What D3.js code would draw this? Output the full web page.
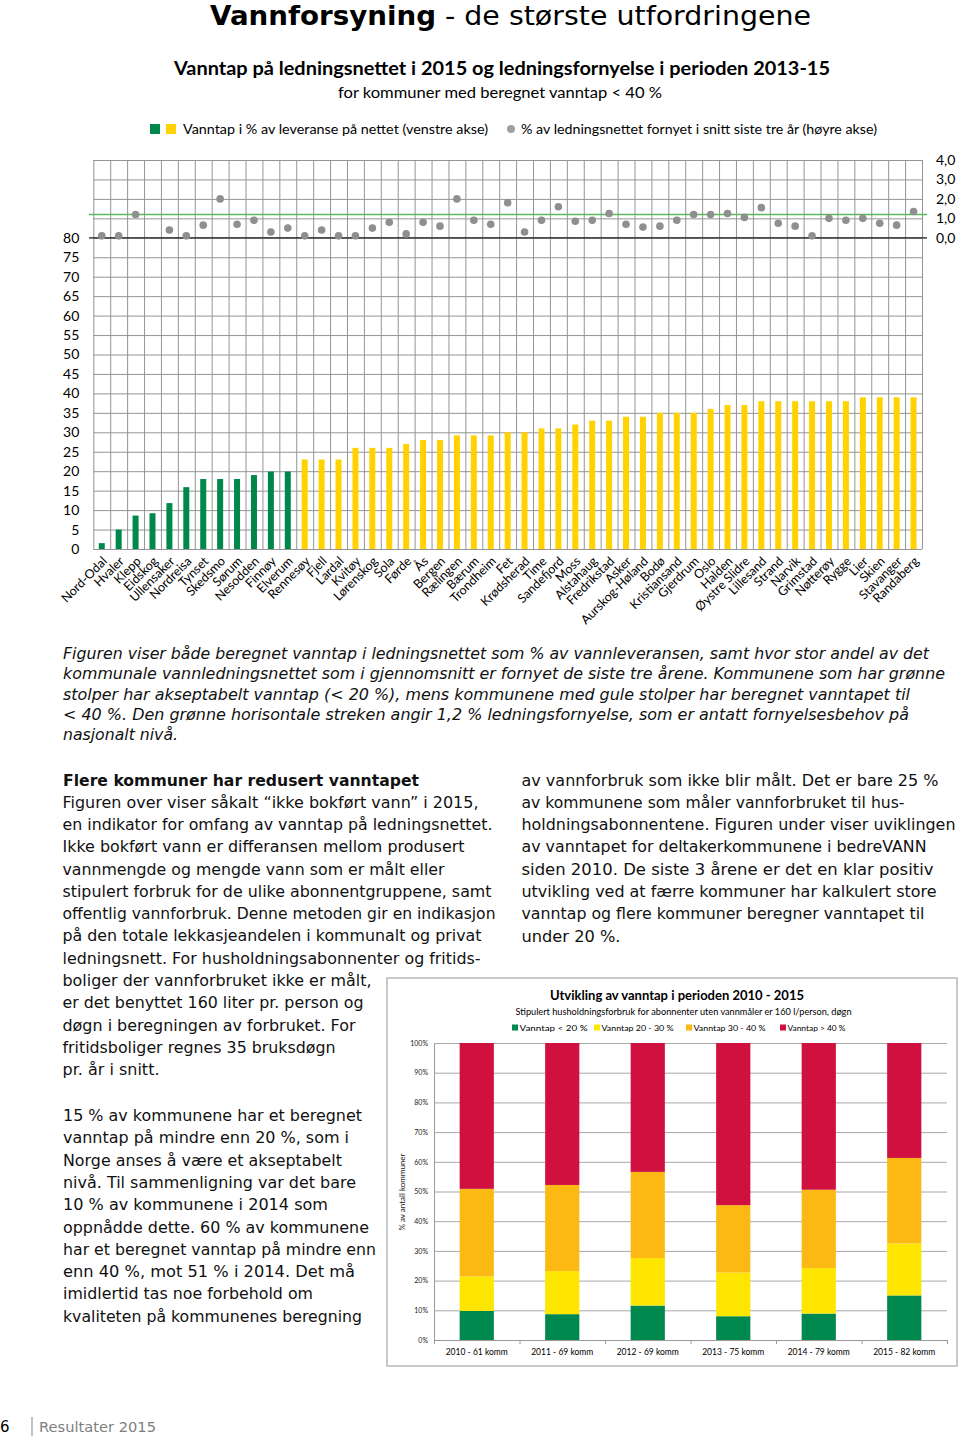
<!DOCTYPE html>
<html><head><meta charset="utf-8">
<script src="https://cdn.jsdelivr.net/npm/d3@7"></script>
<style>
html,body{margin:0;padding:0;background:#fff;}
svg{display:block;}
</style></head><body>
<svg id="c" width="960" height="1438"></svg>
<script>
// ---------------- DATA ----------------
const kommuner = ["Nord-Odal","Hvaler","Klepp","Eidskog","Ullensaker","Nordreisa","Tynset","Skedsmo","Sørum","Nesodden","Finnøy","Elverum","Rennesøy","Fjell","Lardal","Kvitøy","Lørenskog","Sola","Førde","Ås","Bergen","Rælingen","Bærum","Trondheim","Fet","Krødsherad","Time","Sandefjord","Moss","Alstahaug","Fredrikstad","Asker","Aurskog-Høland","Bodø","Kristiansand","Gjerdrum","Oslo","Halden","Øystre Slidre","Lillesand","Strand","Narvik","Grimstad","Nøtterøy","Rygge","Lier","Skien","Stavanger","Randaberg"];
const vanntap = [1.5,5,8.6,9.2,11.8,15.9,18,18,18,19,19.9,19.9,23,23,23,26,26,26,27,28,28,29.2,29.2,29.2,30,30,31,31,32,33,33,34,34,35,35,35,36,37,37,38,38,38,38,38,38,39,39,39,39];
const fornyelse = [0.1,0.1,1.2,null,0.4,0.1,0.65,2.0,0.7,0.9,0.3,0.5,0.1,0.4,0.1,0.1,0.5,0.8,0.2,0.8,0.6,2.0,0.9,0.7,1.8,0.3,0.9,1.6,0.85,0.9,1.25,0.7,0.55,0.6,0.9,1.2,1.2,1.25,1.05,1.55,0.75,0.6,0.1,1.0,0.9,1.0,0.75,0.65,1.35];
const fornyelsesbehov = 1.2;
const leftTicks = [0,5,10,15,20,25,30,35,40,45,50,55,60,65,70,75,80];
const rightTicks = [0,1,2,3,4];

const years = ["2010 - 61 komm","2011 - 69 komm","2012 - 69 komm","2013 - 75 komm","2014 - 79 komm","2015 - 82 komm"];
const pctUnder20 = [9.8,8.7,11.6,8.0,8.9,15.0];
const pct20to30  = [11.6,14.5,16.0,14.7,15.3,17.5];
const pct30to40  = [29.5,29.0,29.0,22.7,26.4,28.8];
const pctOver40  = [49.1,47.8,43.4,54.6,49.4,38.7];
const stackKeys = ["Vanntap < 20 %","Vanntap 20 - 30 %","Vanntap 30 - 40 %","Vanntap > 40 %"];
const stackTicks = [0,10,20,30,40,50,60,70,80,90,100];

const captionLines = [
 "Figuren viser både beregnet vanntap i ledningsnettet som % av vannleveransen, samt hvor stor andel av det",
 "kommunale vannledningsnettet som i gjennomsnitt er fornyet de siste tre årene. Kommunene som har grønne",
 "stolper har akseptabelt vanntap (< 20 %), mens kommunene med gule stolper har beregnet vanntapet til",
 "< 40 %. Den grønne horisontale streken angir 1,2 % ledningsfornyelse, som er antatt fornyelsesbehov på",
 "nasjonalt nivå."];
const leftLines1 = [
 "Figuren over viser såkalt “ikke bokført vann” i 2015,",
 "en indikator for omfang av vanntap på ledningsnettet.",
 "Ikke bokført vann er differansen mellom produsert",
 "vannmengde og mengde vann som er målt eller",
 "stipulert forbruk for de ulike abonnentgruppene, samt",
 "offentlig vannforbruk. Denne metoden gir en indikasjon",
 "på den totale lekkasjeandelen i kommunalt og privat",
 "ledningsnett. For husholdningsabonnenter og fritids-",
 "boliger der vannforbruket ikke er målt,",
 "er det benyttet 160 liter pr. person og",
 "døgn i beregningen av forbruket. For",
 "fritidsboliger regnes 35 bruksdøgn",
 "pr. år i snitt."];
const leftLines2 = [
 "15 % av kommunene har et beregnet",
 "vanntap på mindre enn 20 %, som i",
 "Norge anses å være et akseptabelt",
 "nivå. Til sammenligning var det bare",
 "10 % av kommunene i 2014 som",
 "oppnådde dette. 60 % av kommunene",
 "har et beregnet vanntap på mindre enn",
 "enn 40 %, mot 51 % i 2014. Det må",
 "imidlertid tas noe forbehold om",
 "kvaliteten på kommunenes beregning"];
const rightLines = [
 "av vannforbruk som ikke blir målt. Det er bare 25 %",
 "av kommunene som måler vannforbruket til hus-",
 "holdningsabonnentene. Figuren under viser uviklingen",
 "av vanntapet for deltakerkommunene i bedreVANN",
 "siden 2010. De siste 3 årene er det en klar positiv",
 "utvikling ved at færre kommuner har kalkulert store",
 "vanntap og flere kommuner beregner vanntapet til",
 "under 20 %."];

// ---------------- LAYOUT ----------------
const captionW = [866,882,847,846,115];
const left1W = [416,430,402,382,429,433,419,418,309,301,293,273,97];
const left2W = [299,286,279,293,265,306,313,292,250,299];
const rightW = [417,383,434,405,412,415,403,99];

const svg = d3.select("#c");
svg.append("rect").attr("width",960).attr("height",1438).attr("fill","#fff");

function fitW(el, w){
  if (w == null) return;
  const l = el.getComputedTextLength();
  if (Math.abs(l - w) > 0.5){ el.setAttribute("textLength", w); el.setAttribute("lengthAdjust","spacingAndGlyphs"); }
}
function addText(x, y, txt, opts, w){
  const t = svg.append("text").attr("x",x).attr("y",y).text(txt);
  Object.entries(opts||{}).forEach(([k,v])=>t.attr(k,v));
  fitW(t.node(), w);
  return t;
}
function block(lines, widths, x, y0, dy, opts){
  lines.forEach((s,i)=>addText(x, y0+i*dy, s, opts, widths[i]));
}

// ---------------- TITLES ----------------
const sansV = "DejaVu Sans, Verdana, sans-serif";
const sansC = "Lato, 'Open Sans', sans-serif";
addText(210, 24.5, "Vannforsyning", {"font-family":sansV,"font-weight":"bold","font-size":26,"fill":"#000"}, 226);
addText(445, 24.5, "- de største utfordringene", {"font-family":sansV,"font-size":26,"fill":"#000"}, 366);
addText(174, 75, "Vanntap på ledningsnettet i 2015 og ledningsfornyelse i perioden 2013-15", {"font-family":sansC,"font-weight":"bold","font-size":19,"fill":"#000"}, 656);
addText(338, 98, "for kommuner med beregnet vanntap < 40 %", {"font-family":sansC,"font-size":15.5,"fill":"#000"}, 324);

// legend
const greenBar = "#00874c", yellowBar = "#ffd200", dotCol = "#8f8f8f";
svg.append("rect").attr("x",150).attr("y",124).attr("width",10).attr("height",10).attr("fill",greenBar);
svg.append("rect").attr("x",166).attr("y",124).attr("width",10).attr("height",10).attr("fill",yellowBar);
addText(183, 134, "Vanntap i % av leveranse på nettet (venstre akse)", {"font-family":sansC,"font-size":14,"fill":"#000"}, 305);
svg.append("circle").attr("cx",511).attr("cy",129).attr("r",4).attr("fill","#a0a0a0");
addText(521, 134, "% av ledningsnettet fornyet i snitt siste tre år (høyre akse)", {"font-family":sansC,"font-size":14,"fill":"#000"}, 356);

// ---------------- MAIN CHART ----------------
const pL = 93.3, pR = 922, pT = 160, pB = 549;
const x = d3.scaleBand().domain(kommuner).range([pL, pR]).padding(0);
const xi = d3.scaleLinear().domain([0, kommuner.length]).range([pL, pR]);
const yL = d3.scaleLinear().domain([0,100]).range([pB, pT]);
const yR = d3.scaleLinear().domain([-16,4]).range([pB, pT]);
const gridCol = "#949494";

// horizontal grid
const gh = svg.append("g").attr("transform",`translate(${pL},0)`)
  .call(d3.axisLeft(yL).tickValues(d3.range(0,105,5)).tickSize(-(pR-pL)).tickFormat(""));
gh.select(".domain").remove();
gh.selectAll("line").attr("stroke",gridCol).attr("stroke-width",1);
// vertical grid
const gv = svg.append("g").attr("transform",`translate(0,${pB})`)
  .call(d3.axisBottom(xi).tickValues(d3.range(0,kommuner.length+1)).tickSize(-(pB-pT)).tickFormat(""));
gv.select(".domain").remove();
gv.selectAll("line").attr("stroke",gridCol).attr("stroke-width",1);

// bars
svg.append("g").selectAll("rect").data(kommuner).join("rect")
  .attr("x", d => x(d) + x.bandwidth()/2 - 3)
  .attr("width", 6)
  .attr("y", (d,i) => yL(vanntap[i]))
  .attr("height", (d,i) => yL(0) - yL(vanntap[i]))
  .attr("fill", (d,i) => vanntap[i] < 20 ? greenBar : yellowBar);

// reference lines
svg.append("line").attr("x1",89).attr("x2",927).attr("y1",yR(0)).attr("y2",yR(0)).attr("stroke","#1a1a1a").attr("stroke-width",1.3);
svg.append("line").attr("x1",89).attr("x2",927).attr("y1",yR(fornyelsesbehov)).attr("y2",yR(fornyelsesbehov)).attr("stroke","#5cb85c").attr("stroke-width",1.5);

// dots
svg.append("g").selectAll("circle").data(kommuner.filter((d,i)=>fornyelse[i]!=null)).join("circle")
  .attr("cx", d => x(d) + x.bandwidth()/2)
  .attr("cy", d => yR(fornyelse[kommuner.indexOf(d)]))
  .attr("r", 3.8)
  .attr("fill", dotCol);

// left axis
const ga = svg.append("g").attr("transform",`translate(${pL},0)`)
  .call(d3.axisLeft(yL).tickValues(leftTicks).tickSize(0).tickPadding(14));
ga.select(".domain").remove();
ga.selectAll("text").attr("font-family",sansC).attr("font-size",14).attr("fill","#000");
// right axis
const gr = svg.append("g").attr("transform",`translate(${pR},0)`)
  .call(d3.axisRight(yR).tickValues(rightTicks).tickSize(0).tickPadding(14).tickFormat(d => d3.format(".1f")(d).replace(".",",")));
gr.select(".domain").remove();
gr.selectAll("text").attr("font-family",sansC).attr("font-size",14).attr("fill","#000");
// bottom axis labels
const gb = svg.append("g").attr("transform",`translate(0,${pB})`)
  .call(d3.axisBottom(x).tickSize(0));
gb.select(".domain").remove();
gb.selectAll("text").attr("font-family",sansC).attr("font-size",12.5).attr("fill","#000")
  .attr("text-anchor","end").attr("x",0).attr("y",0).attr("dy",0)
  .attr("transform","translate(6,13) rotate(-45)");

// ---------------- CAPTION ----------------
block(captionLines, captionW, 63, 659, 20.3, {"font-family":sansV,"font-style":"italic","font-size":15,"fill":"#111"});

// ---------------- BODY TEXT ----------------
addText(63, 785.5, "Flere kommuner har redusert vanntapet", {"font-family":sansV,"font-weight":"bold","font-size":15,"fill":"#111"}, 356);
block(leftLines1, left1W, 62.5, 807.8, 22.27, {"font-family":sansV,"font-size":15,"fill":"#111"});
block(leftLines2, left2W, 63, 1121, 22.3, {"font-family":sansV,"font-size":15,"fill":"#111"});
block(rightLines, rightW, 521.5, 785.5, 22.3, {"font-family":sansV,"font-size":15,"fill":"#111"});

// ---------------- STACKED CHART ----------------
svg.append("rect").attr("x",387).attr("y",978).attr("width",570).attr("height",388)
  .attr("fill","#fff").attr("stroke","#c4c4c4").attr("stroke-width",1.8);
addText(550, 999.5, "Utvikling av vanntap i perioden 2010 - 2015", {"font-family":sansC,"font-weight":"bold","font-size":12.5,"fill":"#000"}, 254);
addText(515.5, 1014.5, "Stipulert husholdningsforbruk for abonnenter uten vannmåler er 160 l/person, døgn", {"font-family":sansC,"font-size":8.5,"fill":"#000"}, 336);

const stackCols = ["#00894f","#ffe600","#fcb914","#d0103f"];
const legX = [512, 594, 686, 780];
const legTW = [68, 72, 72, 58];
stackKeys.forEach((k,i)=>{
  svg.append("rect").attr("x",legX[i]).attr("y",1024.5).attr("width",6).attr("height",6).attr("fill",stackCols[i]);
  addText(legX[i]+7.5, 1030.5, k, {"font-family":sansC,"font-size":8,"fill":"#000"}, legTW[i]);
});

const sL = 434, sR = 947, sT = 1043, sB = 1340;
const xs = d3.scaleBand().domain(years).range([sL, sR]).paddingInner(0.6).paddingOuter(0.3);
const xsEdge = d3.scaleLinear().domain([0, years.length]).range([sL, sR]);
const ys = d3.scaleLinear().domain([0,100]).range([sB, sT]);

const gsg = svg.append("g").attr("transform",`translate(${sL},0)`)
  .call(d3.axisLeft(ys).tickValues(stackTicks).tickSize(-(sR-sL)).tickPadding(6).tickFormat(d=>d+"%"));
gsg.select(".domain").attr("stroke","#9a9a9a");
gsg.selectAll("line").attr("stroke","#a8a8a8").attr("stroke-width",1);
gsg.selectAll("text").attr("font-family",sansC).attr("font-size",7).attr("fill","#222");

const table = years.map((y,i)=>({year:y, [stackKeys[0]]:pctUnder20[i], [stackKeys[1]]:pct20to30[i], [stackKeys[2]]:pct30to40[i], [stackKeys[3]]:pctOver40[i]}));
const series = d3.stack().keys(stackKeys)(table);
svg.append("g").selectAll("g").data(series).join("g").attr("fill",(d,i)=>stackCols[i])
  .selectAll("rect").data(d=>d).join("rect")
  .attr("x", d => xs(d.data.year))
  .attr("width", xs.bandwidth())
  .attr("y", d => ys(d[1]))
  .attr("height", d => ys(d[0]) - ys(d[1]));

// bottom axis
const gsx = svg.append("g").attr("transform",`translate(0,${sB})`)
  .call(d3.axisBottom(xsEdge).tickValues(d3.range(0,years.length+1)).tickSize(4).tickFormat(""));
gsx.selectAll("line,path").attr("stroke","#9a9a9a");
const gsl = svg.append("g").attr("transform",`translate(0,${sB})`)
  .call(d3.axisBottom(xs).tickSize(0).tickPadding(9));
gsl.select(".domain").remove();
gsl.selectAll("text").attr("font-family",sansC).attr("font-size",8.5).attr("fill","#000");

svg.append("text").attr("transform","translate(405,1192) rotate(-90)").attr("text-anchor","middle")
  .attr("font-family",sansC).attr("font-size",8).attr("fill","#222").text("% av antall kommuner");

// ---------------- FOOTER ----------------
addText(0, 1432, "6", {"font-family":sansV,"font-size":15,"fill":"#000"});
svg.append("line").attr("x1",32).attr("x2",32).attr("y1",1417).attr("y2",1436).attr("stroke","#999").attr("stroke-width",1.2);
addText(39, 1432, "Resultater 2015", {"font-family":sansV,"font-size":14,"fill":"#7f7f7f"}, 117);
</script>
</body></html>
